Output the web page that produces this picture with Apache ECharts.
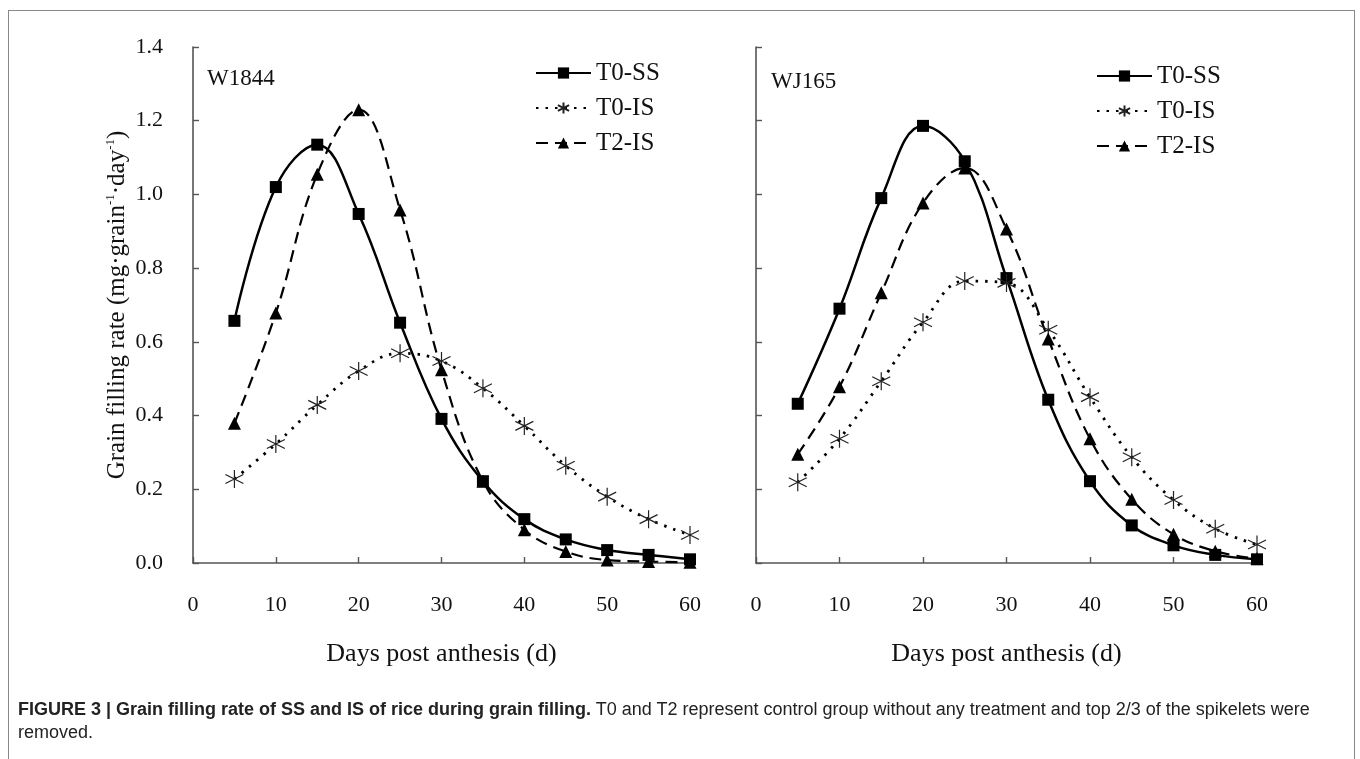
<!DOCTYPE html>
<html>
<head>
<meta charset="utf-8">
<script src="https://cdn.jsdelivr.net/npm/echarts@6/dist/echarts.min.js"></script>
<style>
  html, body { margin: 0; padding: 0; background: #fff; }
  #wrap { position: relative; width: 1360px; height: 759px; overflow: hidden; background: #fff; }
  #frame { position: absolute; left: 8px; top: 10px; width: 1347px; height: 800px; border: 1px solid #888; box-sizing: border-box; }
  #chart { position: absolute; left: 0; top: 0; width: 1360px; height: 759px; }
  #caption { position: absolute; left: 18px; top: 698px; width: 1330px; font-family: 'Liberation Sans Narrow', 'Liberation Sans', Arial, sans-serif; font-size: 18px; line-height: 23px; color: #222; }
</style>
</head>
<body>
<div id="wrap">
  <div id="frame"></div>
  <div id="chart"></div>
  <div id="caption"><b>FIGURE 3 | Grain filling rate of SS and IS of rice during grain filling.</b> T0 and T2 represent control group without any treatment and top 2/3 of the spikelets were removed.</div>
</div>
<script>
// ---- data ----
const days = [5, 10, 15, 20, 25, 30, 35, 40, 45, 50, 55, 60];
const seriesNames = ['T0-SS', 'T0-IS', 'T2-IS'];
const panelLabels = ['W1844', 'WJ165'];
const yTicks = [0, 0.2, 0.4, 0.6, 0.8, 1.0, 1.2, 1.4];
const xTicks = [0, 10, 20, 30, 40, 50, 60];

const w1844_T0SS = [0.657, 1.020, 1.135, 0.947, 0.652, 0.391, 0.222, 0.119, 0.064, 0.035, 0.022, 0.010];
const w1844_T0IS = [0.228, 0.323, 0.429, 0.521, 0.569, 0.548, 0.474, 0.372, 0.264, 0.180, 0.119, 0.076];
const w1844_T2IS = [0.379, 0.678, 1.055, 1.230, 0.958, 0.524, 0.222, 0.090, 0.031, 0.008, 0.004, 0.002];

const wj165_T0SS = [0.432, 0.690, 0.990, 1.186, 1.090, 0.773, 0.443, 0.222, 0.102, 0.048, 0.022, 0.010];
const wj165_T0IS = [0.219, 0.337, 0.493, 0.653, 0.765, 0.760, 0.633, 0.450, 0.287, 0.171, 0.093, 0.050];
const wj165_T2IS = [0.295, 0.478, 0.733, 0.977, 1.072, 0.906, 0.608, 0.337, 0.173, 0.078, 0.032, 0.012];

// ---- styling ----
const serif = "'Liberation Serif', 'DejaVu Serif', serif";
const axisColor = '#555';
const ink = '#111';
const asterisk = 'path://M0,-10L0,10M-8.66,-5L8.66,5M-8.66,5L8.66,-5';

function pairs(vals) { return days.map((d, i) => [d, vals[i]]); }

function mkSeries(name, vals, idx) {
  const base = {
    name: name, type: 'line', xAxisIndex: idx, yAxisIndex: idx,
    data: pairs(vals), smooth: 0.4, z: 3
  };
  if (name === 'T0-SS') {
    return Object.assign(base, {
      symbol: 'rect', symbolSize: 12,
      itemStyle: { color: '#000' },
      lineStyle: { color: '#000', width: 2.5, type: 'solid' }
    });
  }
  if (name === 'T0-IS') {
    return Object.assign(base, {
      symbol: asterisk, symbolSize: 18,
      itemStyle: { color: 'rgba(0,0,0,0)', borderColor: '#222', borderWidth: 1.2 },
      lineStyle: { color: '#000', width: 2.8, type: [2.5, 7] }
    });
  }
  return Object.assign(base, {
    symbol: 'triangle', symbolSize: 13,
    itemStyle: { color: '#000' },
    lineStyle: { color: '#000', width: 2.2, type: [12, 7] }
  });
}

function xAxisCfg(idx) {
  return {
    type: 'value', gridIndex: idx, min: 0, max: 60, interval: 10,
    name: 'Days post anthesis (d)', nameLocation: 'middle', nameGap: 78,
    nameTextStyle: { fontFamily: serif, fontSize: 26, color: ink },
    axisLine: { show: true, lineStyle: { color: axisColor, width: 1.6 } },
    axisTick: { show: true, inside: true, length: 6, lineStyle: { color: axisColor, width: 1.4 } },
    axisLabel: { margin: 31, fontFamily: serif, fontSize: 22, color: ink },
    splitLine: { show: false }
  };
}

function yAxisCfg(idx) {
  const cfg = {
    type: 'value', gridIndex: idx, min: 0, max: 1.4, interval: 0.2,
    axisLine: { show: true, lineStyle: { color: axisColor, width: 1.6 } },
    axisTick: { show: true, inside: true, length: 6, lineStyle: { color: axisColor, width: 1.4 } },
    axisLabel: { show: idx === 0, margin: 30, fontFamily: serif, fontSize: 22, color: ink,
      formatter: v => v.toFixed(1) },
    splitLine: { show: false }
  };
  if (idx === 0) {
    cfg.name = 'Grain filling rate (mg·grain{sup|-1}·day{sup|-1})';
    cfg.nameLocation = 'middle';
    cfg.nameGap = 60;
    cfg.nameTextStyle = {
      fontFamily: serif, fontSize: 25, color: ink, lineHeight: 28,
      rich: { sup: { fontFamily: serif, fontSize: 13, color: ink, verticalAlign: 'top', lineHeight: 13 } }
    };
  }
  return cfg;
}

function legendCfg(left, top) {
  return {
    orient: 'vertical', left: left, top: top,
    itemWidth: 55, itemHeight: 14, itemGap: 9,
    textStyle: { fontFamily: serif, fontSize: 25, lineHeight: 26, color: ink },
    data: seriesNames
  };
}

const chart = echarts.init(document.getElementById('chart'), null, { renderer: 'canvas' });
chart.setOption({
  backgroundColor: 'transparent',
  animation: false,
  grid: [
    { left: 193, right: 670, top: 47, bottom: 196 },
    { left: 756, right: 103, top: 47, bottom: 196 }
  ],
  xAxis: [xAxisCfg(0), xAxisCfg(1)],
  yAxis: [yAxisCfg(0), yAxisCfg(1)],
  legend: [legendCfg(530, 55), legendCfg(1091, 58)],
  graphic: [
    { type: 'text', left: 207, top: 67, style: { text: panelLabels[0], font: "23px 'Liberation Serif'", fill: ink } },
    { type: 'text', left: 771, top: 70, style: { text: panelLabels[1], font: "23px 'Liberation Serif'", fill: ink } }
  ],
  series: [
    mkSeries('T0-SS', w1844_T0SS, 0),
    mkSeries('T0-IS', w1844_T0IS, 0),
    mkSeries('T2-IS', w1844_T2IS, 0),
    mkSeries('T0-SS', wj165_T0SS, 1),
    mkSeries('T0-IS', wj165_T0IS, 1),
    mkSeries('T2-IS', wj165_T2IS, 1)
  ]
});
</script>
</body>
</html>
